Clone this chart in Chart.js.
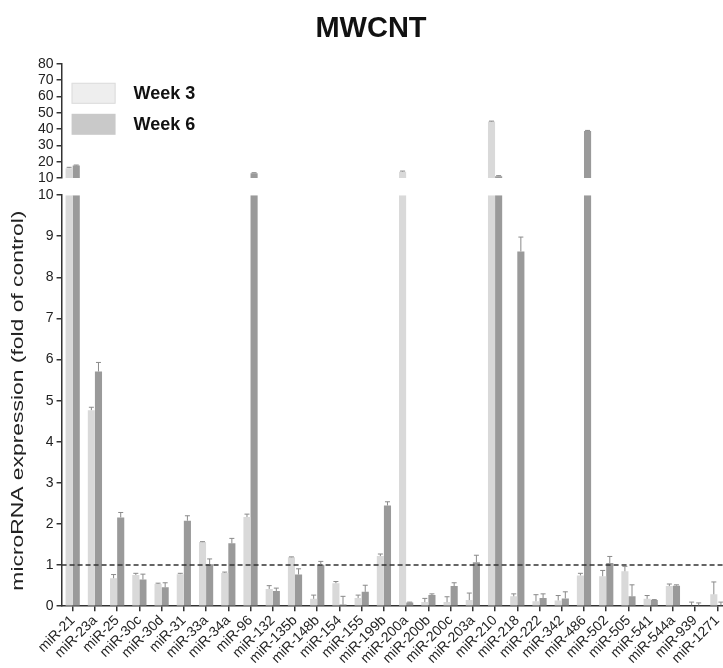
<!DOCTYPE html>
<html>
<head>
<meta charset="utf-8">
<script src="https://cdn.jsdelivr.net/npm/chart.js@4/dist/chart.umd.min.js"></script>
<style>
  html, body { margin: 0; padding: 0; background: #fff; overflow: hidden; }
  #wrap { width: 730px; height: 668px; }
</style>
</head>
<body>
<div id="wrap"><canvas id="mirChart" width="730" height="668"></canvas></div>
<script>
var LABELS = ['miR-21', 'miR-23a', 'miR-25', 'miR-30c', 'miR-30d', 'miR-31', 'miR-33a', 'miR-34a',
  'miR-96', 'miR-132', 'miR-135b', 'miR-148b', 'miR-154', 'miR-155', 'miR-199b', 'miR-200a',
  'miR-200b', 'miR-200c', 'miR-203a', 'miR-210', 'miR-218', 'miR-222', 'miR-342', 'miR-486',
  'miR-502', 'miR-505', 'miR-541', 'miR-544a', 'miR-939', 'miR-1271'];
var WEEK3 = [16.1, 4.77, 0.68, 0.76, 0.54, 0.78, 1.56, 0.81, 2.17, 0.42, 1.19, 0.18, 0.56, 0.20, 1.22,
  13.9, 0.10, 0.10, 0.15, 44.6, 0.24, 0.12, 0.14, 0.75, 0.73, 0.85, 0.18, 0.49, 0.02, 0.29];
var ERR3 = [0.5, 0.07, 0.09, 0.04, 0.02, 0.02, 0.01, 0.02, 0.07, 0.08, 0.01, 0.09, 0.04, 0.07, 0.05,
  0.4, 0.09, 0.13, 0.17, 0.3, 0.06, 0.16, 0.12, 0.05, 0.14, 0.12, 0.08, 0.05, 0.08, 0.30];
var WEEK6 = [17.7, 5.71, 2.16, 0.65, 0.46, 2.08, 1.02, 1.53, 13.0, 0.37, 0.77, 1.01, 0.04, 0.35, 2.45,
  0.09, 0.27, 0.49, 1.07, 11.2, 8.63, 0.20, 0.19, 38.9, 1.05, 0.24, 0.15, 0.50, 0.02, 0.02];
var ERR6 = [0.3, 0.22, 0.12, 0.13, 0.11, 0.12, 0.13, 0.12, 0.3, 0.07, 0.14, 0.08, 0.20, 0.16, 0.09,
  0.01, 0.03, 0.08, 0.17, 0.3, 0.35, 0.10, 0.16, 0.3, 0.16, 0.28, 0.01, 0.02, 0.06, 0.08];
var LOW_TICKS = [0, 10];   // lower panel range
var HIGH_TICKS = [10, 80]; // upper panel range
var Y_TITLE = 'microRNA expression (fold of control)';

var LIGHT = '#d9d9d9', DARK = '#9a9a9a';
var FONT = 'Liberation Sans, Arial, sans-serif';

function lowPart(arr) { return arr.map(function (v) { return Math.min(v, LOW_TICKS[1]); }); }
function highPart(arr) { return arr.map(function (v) { return v > HIGH_TICKS[0] ? v : null; }); }

var extras = {
  id: 'extras',
  afterDatasetsDraw: function (chart) {
    var ctx = chart.ctx, area = chart.chartArea;
    var yLow = chart.scales.yLow, yHigh = chart.scales.yHigh;
    // reference line at 1
    var y1 = yLow.getPixelForValue(1);
    ctx.save();
    ctx.strokeStyle = '#333';
    ctx.lineWidth = 1.5;
    ctx.setLineDash([5, 3]);
    ctx.beginPath();
    ctx.moveTo(area.left, y1);
    ctx.lineTo(area.right, y1);
    ctx.stroke();
    ctx.setLineDash([]);
    // error bars (upper only)
    ctx.strokeStyle = '#8a8a8a';
    ctx.lineWidth = 1;
    [[0, WEEK3, ERR3], [1, WEEK6, ERR6]].forEach(function (s) {
      var meta = chart.getDatasetMeta(s[0]);
      s[1].forEach(function (v, i) {
        var sc = v > LOW_TICKS[1] ? yHigh : yLow;
        var x = meta.data[i].x;
        var a = sc.getPixelForValue(v), b = sc.getPixelForValue(v + s[2][i]);
        ctx.beginPath();
        ctx.moveTo(x, a); ctx.lineTo(x, b);
        ctx.moveTo(x - 2.5, b); ctx.lineTo(x + 2.5, b);
        ctx.stroke();
      });
    });
    // legend
    var lx = area.left + 10, ly = area.top + 19;
    ctx.fillStyle = '#eeeeee';
    ctx.fillRect(lx, ly, 44, 21);
    ctx.strokeStyle = '#dddddd';
    ctx.strokeRect(lx + 0.5, ly + 0.5, 43, 20);
    ctx.fillStyle = '#c9c9c9';
    ctx.fillRect(lx, ly + 31, 44, 21);
    ctx.fillStyle = '#111';
    ctx.font = 'bold 18px ' + FONT;
    ctx.textBaseline = 'middle';
    ctx.fillText(chart.data.datasets[0].label, lx + 62, ly + 11);
    ctx.fillText(chart.data.datasets[1].label, lx + 62, ly + 42);
    // y axis title, stretched along its length like the original
    ctx.font = '17px ' + FONT;
    ctx.fillStyle = '#222';
    ctx.textAlign = 'center';
    var w = ctx.measureText(Y_TITLE).width;
    ctx.translate(18, (yLow.top + yLow.bottom) / 2);
    ctx.rotate(-Math.PI / 2);
    ctx.scale(380 / w, 1);
    ctx.fillText(Y_TITLE, 0, 0);
    ctx.restore();
  }
};

var tickFont = { family: FONT, size: 14 };
var axisGrid = { display: true, drawOnChartArea: false, drawTicks: true, tickLength: 5, color: '#333', lineWidth: 1.5 };

new Chart(document.getElementById('mirChart'), {
  type: 'bar',
  data: {
    labels: LABELS,
    datasets: [
      { label: 'Week 3', data: lowPart(WEEK3), backgroundColor: LIGHT, yAxisID: 'yLow', stack: 'w3' },
      { label: 'Week 6', data: lowPart(WEEK6), backgroundColor: DARK, yAxisID: 'yLow', stack: 'w6' },
      { label: 'Week 3 high', data: highPart(WEEK3), backgroundColor: LIGHT, yAxisID: 'yHigh', stack: 'w3' },
      { label: 'Week 6 high', data: highPart(WEEK6), backgroundColor: DARK, yAxisID: 'yHigh', stack: 'w6' }
    ]
  },
  options: {
    responsive: false,
    animation: false,
    categoryPercentage: 0.64,
    barPercentage: 1.0,
    layout: { padding: { left: 12, right: 0, top: 0, bottom: 0 } },
    plugins: {
      legend: { display: false },
      tooltip: { enabled: false },
      title: {
        display: true, text: 'MWCNT', color: '#111',
        font: { family: FONT, size: 29, weight: 'bold' },
        padding: { top: 12, bottom: 17 }
      }
    },
    scales: {
      x: {
        grid: Object.assign({}, axisGrid, { offset: false }),
        border: { display: true, color: '#333', width: 1.5 },
        ticks: { autoSkip: false, color: '#222', font: { family: FONT, size: 14 }, maxRotation: 45, minRotation: 45, padding: 1 }
      },
      yLow: {
        type: 'linear', position: 'left', stack: 'v', stackWeight: 410, stacked: false,
        min: LOW_TICKS[0], max: LOW_TICKS[1],
        grid: axisGrid,
        border: { display: true, color: '#333', width: 1.5 },
        ticks: { stepSize: 1, autoSkip: false, color: '#222', font: tickFont, padding: 3 },
        afterFit: function (scale) { scale.width += 23; }
      },
      yGap: {
        type: 'linear', position: 'left', stack: 'v', stackWeight: 17,
        min: 0, max: 1,
        grid: { display: false }, border: { display: false }, ticks: { display: false }
      },
      yHigh: {
        type: 'linear', position: 'left', stack: 'v', stackWeight: 114, stacked: false,
        min: HIGH_TICKS[0], max: HIGH_TICKS[1],
        grid: axisGrid,
        border: { display: true, color: '#333', width: 1.5 },
        ticks: { stepSize: 10, autoSkip: false, color: '#222', font: tickFont, padding: 3 }
      }
    }
  },
  plugins: [extras]
});
</script>
</body>
</html>
